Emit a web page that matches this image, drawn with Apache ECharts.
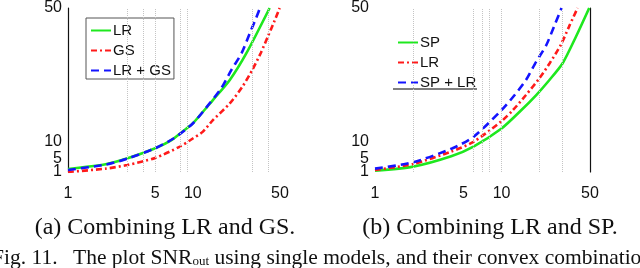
<!DOCTYPE html>
<html><head><meta charset="utf-8">
<script src="https://cdn.jsdelivr.net/npm/echarts@6/dist/echarts.min.js"></script>
<style>html,body{margin:0;padding:0;background:#fff}#c{width:640px;height:268px}</style>
</head><body><div id="c"></div>
<script>
// tick labels
const xTickLabels = [1, 5, 10, 50];
const yTickLabels = [1, 5, 10, 50];
// dotted vertical grid positions (x values)
const gridLinesA = [3, 4, 5, 8, 9, 30, 40];
const gridLinesB = [2, 6, 7, 8, 10, 20, 30];

// (a) Combining LR and GS
const aLR_x   = [1, 2, 3, 5, 6.8, 8.9, 10, 14.5, 19.8, 26.9, 41.3];
const aLR_y   = [1.9, 3.3, 5.1, 8.1, 10.6, 14, 15.5, 22.5, 28.5, 36.5, 50];
const aGS_x   = [1, 2, 3, 5, 7.9, 10, 12, 14.5, 19.8, 25, 30, 35, 40, 45, 49.7];
const aGS_y   = [1.0, 2.0, 3.1, 5.2, 8.6, 11, 13, 16.5, 21.5, 26.5, 31.5, 36.5, 41.5, 46, 50];
const aLRGS_x = [1, 2, 3, 5, 7, 10, 13.7, 16.9, 20.4, 24.6, 28.6, 33.3, 34.5];
const aLRGS_y = [1.6, 3.2, 5, 8.1, 11, 15.5, 21.6, 26, 31.5, 36.5, 42.4, 48.4, 50];

// (b) Combining LR and SP
const bSP_x   = [1, 2, 4, 6, 10, 13.9, 18.8, 23.9, 30.4, 38.7, 49.3];
const bSP_y   = [1.4, 2.6, 5.7, 8.6, 14, 19, 24, 28.5, 33.5, 41.4, 50];
const bLR_x   = [1, 2, 4, 6, 10, 12.3, 15.6, 19.9, 24, 29.4, 34.2, 39.9];
const bLR_y   = [1.6, 3.4, 7.1, 10, 16.2, 19.5, 24, 29, 33.5, 39, 44.5, 50];
const bSPLR_x = [1, 2, 4.1, 6, 10, 12.7, 15.6, 18.8, 22.5, 26, 29.8];
const bSPLR_y = [2, 3.9, 8.1, 11.5, 19.5, 24, 28.5, 34, 38.8, 44.5, 50];

const zip = (xs, ys) => xs.map((x, i) => [x, ys[i]]);
// the labels 1 and 5 sit very close together; put them on separate (overlaid) axes so neither is dropped
const yLabelsOdd  = yTickLabels.filter((v, i) => i % 2 === 1);
const yLabelsEven = yTickLabels.filter((v, i) => i % 2 === 0);

const GREEN = '#1ee81e', RED = '#ff1a1a', BLUE = '#1414ff';
const SANS = 'Liberation Sans, Arial, sans-serif';
const SERIF = 'Liberation Serif';

function xAx(gi) {
  return {
    type: 'log', logBase: 10, min: 1, max: 50, gridIndex: gi,
    axisLine: { show: false }, axisTick: { show: false }, splitLine: { show: false },
    axisLabel: { customValues: xTickLabels, fontSize: 16, color: '#111', fontFamily: SANS, margin: 14,
      hideOverlap: false }
  };
}
function yAx(gi, labels, showLine, pos) {
  return {
    type: 'value', min: 1, max: 50, gridIndex: gi, position: pos || 'left', offset: 0,
    axisTick: { show: false }, splitLine: { show: false },
    axisLine: { show: showLine, lineStyle: { color: '#111', width: 1.2 } },
    axisLabel: labels ? { customValues: labels, fontSize: 16, color: '#111', fontFamily: SANS, margin: 6,
      hideOverlap: false } : { show: false }
  };
}
function gridSeries(gi, yi, vals) {
  return {
    type: 'line', xAxisIndex: gi, yAxisIndex: yi, data: [], z: 1, silent: true,
    markLine: {
      silent: true, symbol: ['none', 'none'], animation: false,
      label: { show: false },
      lineStyle: { color: '#c4c4c4', type: 'dotted', width: 1 },
      data: vals.map(v => ({ xAxis: v }))
    }
  };
}
function line(name, gi, yi, data, color, dash) {
  return {
    name, type: 'line', xAxisIndex: gi, yAxisIndex: yi, data, symbol: 'none',
    smooth: 0.25, z: 3,
    lineStyle: { color, width: 2.6, type: dash },
    itemStyle: { color }
  };
}
const legendText = { fontSize: 15, fontFamily: SANS, color: '#111', padding: [0, 0, 0, -3] };

const chart = echarts.init(document.getElementById('c'), null, { renderer: 'canvas' });
chart.setOption({
  animation: false,
  backgroundColor: '#fff',
  grid: [
    { left: 68, top: 7, width: 212, height: 165 },
    { left: 375, top: 7, width: 215, height: 165 }
  ],
  xAxis: [xAx(0), xAx(1)],
  yAxis: [
    yAx(0, yLabelsEven, true),          // 0: grid a, labels 1 / 10, axis line
    yAx(0, yLabelsOdd, false),          // 1: grid a, labels 5 / 50
    yAx(1, yLabelsEven, false),         // 2: grid b, labels 1 / 10
    yAx(1, yLabelsOdd, false),          // 3: grid b, labels 5 / 50
    yAx(1, null, true, 'right')         // 4: grid b, right frame line
  ],
  legend: [
    { data: ['LR', 'GS', 'LR + GS'], left: 86, top: 18, orient: 'vertical',
      borderColor: '#555', borderWidth: 1, padding: [5, 3, 1, 4], itemGap: 5,
      itemWidth: 20, itemHeight: 14, selectedMode: false,
      itemStyle: { opacity: 0 },
      textStyle: legendText },
    { data: ['SP', 'LR ', 'SP + LR'], left: 395, top: 35, orient: 'vertical',
      padding: [0, 2, 0, 2], itemGap: 5, itemWidth: 20, itemHeight: 14, selectedMode: false,
      itemStyle: { opacity: 0 },
      formatter: n => n.trim(),
      textStyle: legendText }
  ],
  graphic: [
    { type: 'line', shape: { x1: 393, y1: 89, x2: 477, y2: 89 }, style: { stroke: '#555', lineWidth: 1.3 } },
    { type: 'text', x: 165, y: 228, style: { text: '(a) Combining LR and GS.', fontSize: 24, fontFamily: SERIF,
      fill: '#111', textAlign: 'center', textVerticalAlign: 'middle' } },
    { type: 'text', x: 490, y: 228, style: { text: '(b) Combining LR and SP.', fontSize: 24, fontFamily: SERIF,
      fill: '#111', textAlign: 'center', textVerticalAlign: 'middle' } },
    { type: 'text', x: -8, y: 258, style: { text: 'Fig. 11.', fontSize: 21.5, fontFamily: SERIF,
      fill: '#111', textAlign: 'left', textVerticalAlign: 'middle' } },
    { type: 'text', x: 73, y: 258, style: {
      text: '{a|The plot SNR}{s|out}{a| using single models, and their convex combination}',
      textVerticalAlign: 'middle', fill: '#111',
      rich: { a: { fontSize: 21.5, fontFamily: SERIF, color: '#111' },
              s: { fontSize: 13, fontFamily: SERIF, color: '#111', padding: [8, 0, 0, 0] } } } }
  ],
  series: [
    gridSeries(0, 0, gridLinesA),
    gridSeries(1, 2, gridLinesB),
    line('LR', 0, 0, zip(aLR_x, aLR_y), GREEN, 'solid'),
    line('GS', 0, 0, zip(aGS_x, aGS_y), RED, [6, 3, 2, 3]),
    line('LR + GS', 0, 0, zip(aLRGS_x, aLRGS_y), BLUE, [8, 5]),
    line('SP', 1, 2, zip(bSP_x, bSP_y), GREEN, 'solid'),
    line('LR ', 1, 2, zip(bLR_x, bLR_y), RED, [6, 3, 2, 3]),
    line('SP + LR', 1, 2, zip(bSPLR_x, bSPLR_y), BLUE, [8, 5])
  ]
});
</script></body></html>
